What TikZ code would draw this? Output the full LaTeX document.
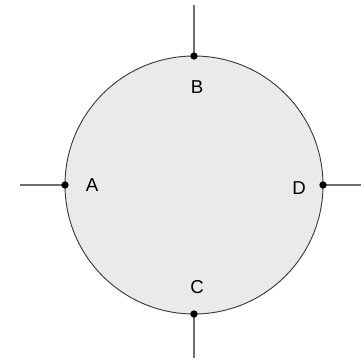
\documentclass[tikz,border=0pt]{standalone}
\usepackage{fontspec}
\setmainfont{Liberation Sans}
\usetikzlibrary{positioning,calc}
\definecolor{diskfill}{HTML}{EAEAE8}
\definecolor{diskedge}{HTML}{3C3C3C}
\definecolor{leadgrey}{HTML}{6E6E6E}
\tikzset{
  disk/.style ={circle, draw=diskedge, fill=diskfill, line width=0.7pt,
                minimum size=193.5pt, inner sep=0pt, outer sep=0pt},
  pin/.style  ={circle, fill=black, minimum size=5.5pt, inner sep=0pt},
  lead/.style ={draw=leadgrey, line width=0.8pt},
  plbl/.style ={font=\fontsize{14}{16}\selectfont, text=black, inner sep=0pt},
}
\begin{document}
\begin{tikzpicture}[x=0.75pt, y=-0.75pt]
\useasboundingbox (0,0) rectangle (361,360);

% ------------------------------------------------------------- disk
\node[disk] (disk) at (194,185) {};

% ------------------------------------------------------------- leads
\coordinate (topend)   at (194,5);
\coordinate (botend)   at (194,358);
\coordinate (leftend)  at (20,185);
\coordinate (rightend) at (361,185);
\draw[lead] (topend)   -- (disk.north);
\draw[lead] (botend)   -- (disk.south);
\draw[lead] (leftend)  -- (disk.west);
\draw[lead] (rightend) -- (disk.east);

% ------------------------------------------------------------- pins
\foreach \a in {north,south,west,east}
  \node[pin] (pin-\a) at (disk.\a) {};

% ------------------------------------------------------------- labels
\node[plbl] (labB) at (197,87)  {B};
\node[plbl] (labA) at (92,185)  {A};
\node[plbl] (labD) at (299,188) {D};
\node[plbl] (labC) at (197,287) {C};

\end{tikzpicture}
\end{document}
